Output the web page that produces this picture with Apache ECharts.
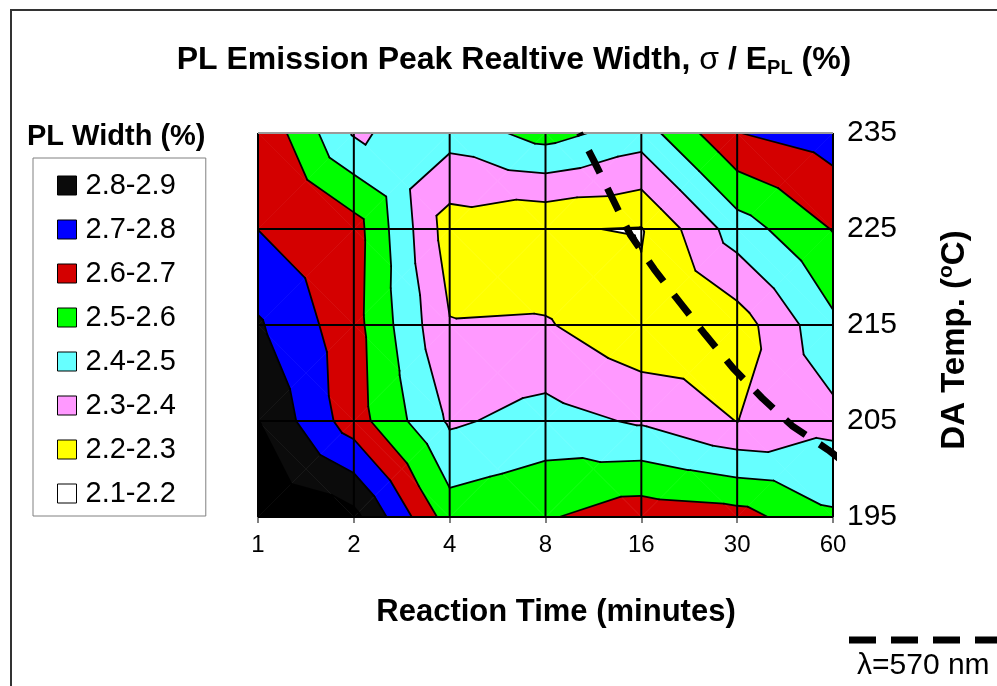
<!DOCTYPE html>
<html>
<head>
<meta charset="utf-8">
<script src="https://cdn.jsdelivr.net/npm/echarts@6/dist/echarts.min.js"></script>
<style>
html,body{margin:0;padding:0;background:#fff;}
#chart{width:997px;height:686px;}
</style>
</head>
<body>
<div id="chart"></div>
<script>
// ---- data ----
const timeLabels = ['1', '2', '4', '8', '16', '30', '60'];
const tempLabels = ['195', '205', '215', '225', '235'];
// PL width (%) at each grid node, one array per DA temperature row
const width195 = [2.98, 2.93, 2.55, 2.59, 2.66, 2.64, 2.515];
const width205 = [2.902, 2.646, 2.385, 2.437, 2.388, 2.298, 2.37];
const width215 = [2.812, 2.637, 2.305, 2.31, 2.216, 2.25, 2.48];
const width225 = [2.699, 2.644, 2.25, 2.207, 2.195, 2.45, 2.605];
const width235 = [2.69, 2.39, 2.44, 2.54, 2.45, 2.698, 2.75];
// contour bands
const bandLabels = ['2.9-3.0', '2.8-2.9', '2.7-2.8', '2.6-2.7', '2.5-2.6', '2.4-2.5', '2.3-2.4', '2.2-2.3', '2.1-2.2'];
const bandLow  = [2.9, 2.8, 2.7, 2.6, 2.5, 2.4, 2.3, 2.2, 2.1];
const bandHigh = [3.0, 2.9, 2.8, 2.7, 2.6, 2.5, 2.4, 2.3, 2.2];
const bandColors = ['#000000', '#0b0b0b', '#0000ff', '#d40000', '#00ff00', '#66ffff', '#ff99ff', '#ffff00', '#ffffff'];
const legendBands = ['2.8-2.9', '2.7-2.8', '2.6-2.7', '2.5-2.6', '2.4-2.5', '2.3-2.4', '2.2-2.3', '2.1-2.2'];
// lambda = 570 nm iso-line (position along time axis ticks, DA temperature)
const lambdaPos  = [3.354, 3.50, 3.885, 4.135, 4.406, 4.667, 4.958, 5.26, 5.573, 5.948, 6.13];
const lambdaTemp = [235.0, 232.2, 224.4, 220.8, 217.3, 214.0, 210.5, 207.4, 204.5, 202.0, 200.6];

// ---- contour computation (triangulated grid, linear in each triangle) ----
const rows = [width195, width205, width215, width225, width235];
const tStep = Number(tempLabels[1]) - Number(tempLabels[0]);
const t0 = Number(tempLabels[0]);
function node(i, j) { return { x: i, y: j, v: rows[j][i] }; }
const triangles = [];
for (let j = 0; j < rows.length - 1; j++) {
  for (let i = 0; i < timeLabels.length - 1; i++) {
    const A = node(i, j), B = node(i + 1, j), C = node(i + 1, j + 1), D = node(i, j + 1);
    const M = { x: i + 0.5, y: j + 0.5, v: (A.v + B.v + C.v + D.v) / 4 };
    triangles.push([A, B, M], [B, C, M], [C, D, M], [D, A, M]);
  }
}
function clip(poly, level, above) {
  const out = [];
  for (let k = 0; k < poly.length; k++) {
    const P = poly[k], Q = poly[(k + 1) % poly.length];
    const inP = above ? P.v >= level : P.v <= level;
    const inQ = above ? Q.v >= level : Q.v <= level;
    if (inP) out.push(P);
    if (inP !== inQ) {
      const t = (level - P.v) / (Q.v - P.v);
      out.push({ x: P.x + t * (Q.x - P.x), y: P.y + t * (Q.y - P.y), v: level });
    }
  }
  return out;
}
const bandPolys = bandLow.map((lo, b) => {
  const list = [];
  triangles.forEach(tri => {
    let p = clip(tri, lo, true);
    if (p.length >= 3) p = clip(p, bandHigh[b], false);
    if (p.length >= 3) list.push(p);
  });
  return list;
});
const levels = [2.2, 2.3, 2.4, 2.5, 2.6, 2.7, 2.8, 2.9];
const segments = [];
triangles.forEach(tri => {
  levels.forEach(L => {
    const pts = [];
    for (let k = 0; k < 3; k++) {
      const P = tri[k], Q = tri[(k + 1) % 3];
      if ((P.v - L) * (Q.v - L) < 0) {
        const t = (L - P.v) / (Q.v - P.v);
        pts.push([P.x + t * (Q.x - P.x), P.y + t * (Q.y - P.y)]);
      }
    }
    if (pts.length === 2) segments.push(pts);
  });
});
const gridSegs = [];
timeLabels.forEach((_, i) => gridSegs.push({ s: [[i, 0], [i, tempLabels.length - 1]], c: '#000' }));
tempLabels.forEach((_, j) => gridSegs.push({ s: [[0, j], [timeLabels.length - 1, j]], c: j === tempLabels.length - 1 ? '#9a9a9a' : '#000' }));

const FONT = '"Liberation Sans", Arial, Helvetica, sans-serif';
const series = bandLabels.map((name, b) => ({
  type: 'custom', name: name, z: 2, silent: true, animation: false,
  itemStyle: { color: bandColors[b] },
  data: bandPolys[b].map(p => [p[0].x, p[0].y]),
  renderItem: function (params, api) {
    const poly = bandPolys[b][params.dataIndex];
    return {
      type: 'polygon',
      shape: { points: poly.map(p => api.coord([p.x, p.y])) },
      style: { fill: bandColors[b], stroke: bandColors[b], lineWidth: 0.6 }
    };
  }
}));
series.push({
  type: 'custom', name: 'contours', z: 3, silent: true, animation: false,
  data: segments.map(s => s[0]),
  renderItem: function (params, api) {
    const s = segments[params.dataIndex];
    const a = api.coord(s[0]), b = api.coord(s[1]);
    return { type: 'line', shape: { x1: a[0], y1: a[1], x2: b[0], y2: b[1] }, style: { stroke: '#000', lineWidth: 1.8, lineCap: 'round' } };
  }
});
series.push({
  type: 'custom', name: 'gridlines', z: 4, silent: true, animation: false,
  data: gridSegs.map(g => g.s[0]),
  renderItem: function (params, api) {
    const g = gridSegs[params.dataIndex];
    const a = api.coord(g.s[0]), b = api.coord(g.s[1]);
    return { type: 'line', shape: { x1: a[0], y1: a[1], x2: b[0], y2: b[1] }, style: { stroke: g.c, lineWidth: 2 } };
  }
});
series.push({
  type: 'line', name: 'λ=570 nm', z: 6, silent: true, animation: false,
  symbol: 'none', clip: false, smooth: false,
  data: lambdaPos.map((x, k) => [x, (lambdaTemp[k] - t0) / tStep]),
  lineStyle: { color: '#000', width: 7, type: [25, 17], dashOffset: 22, cap: 'butt' }
});

const chart = echarts.init(document.getElementById('chart'), null, { renderer: 'canvas' });
chart.setOption({
  backgroundColor: '#fff',
  animation: false,
  textStyle: { fontFamily: FONT },
  grid: { left: 258, right: 164, top: 133, bottom: 169, containLabel: false },
  xAxis: {
    type: 'value', min: 0, max: timeLabels.length - 1, interval: 1,
    axisLine: { show: false },
    axisTick: { show: true, length: 6, lineStyle: { color: '#808080', width: 2 } },
    splitLine: { show: false },
    axisLabel: { formatter: v => timeLabels[v], fontSize: 24, color: '#000', margin: 16, fontFamily: FONT }
  },
  yAxis: {
    type: 'value', position: 'right', min: 0, max: tempLabels.length - 1, interval: 1,
    axisLine: { show: false },
    axisTick: { show: true, length: 8, lineStyle: { color: '#808080', width: 2 } },
    splitLine: { show: false },
    axisLabel: { formatter: v => tempLabels[v], fontSize: 30, color: '#000', margin: 14, fontFamily: FONT }
  },
  legend: {
    orient: 'vertical', left: 33, top: 158,
    data: legendBands,
    icon: 'rect', itemWidth: 19, itemHeight: 19, itemGap: 15,
    padding: [13, 30, 8, 24],
    borderColor: '#808080', borderWidth: 1,
    selectedMode: false,
    itemStyle: { borderColor: '#000', borderWidth: 1 },
    textStyle: { fontSize: 29, color: '#000', fontFamily: FONT, lineHeight: 29, padding: [0, 0, 0, 4] }
  },
  graphic: [
    { type: 'rect', silent: true, shape: { x: 11, y: 10, width: 1000, height: 700 }, style: { fill: 'none', stroke: '#333', lineWidth: 2 } },
    { type: 'text', silent: true, x: 514, y: 60, style: {
        text: '{a|PL Emission Peak Realtive Width, }{g|σ}{a| / E}{s|PL}{a| (%)}',
        align: 'center', verticalAlign: 'middle',
        rich: {
          a: { fontSize: 32, fontWeight: 'bold', fontFamily: FONT, fill: '#000', lineHeight: 36 },
          g: { fontSize: 32, fontWeight: 'normal', fontFamily: FONT, fill: '#000', lineHeight: 36 },
          s: { fontSize: 20, fontWeight: 'bold', fontFamily: FONT, fill: '#000', lineHeight: 25, verticalAlign: 'bottom' }
        } } },
    { type: 'text', silent: true, x: 27, y: 137, style: { text: 'PL Width (%)', font: 'bold 29px ' + FONT, fill: '#000', align: 'left', verticalAlign: 'middle' } },
    { type: 'text', silent: true, x: 556, y: 612, style: { text: 'Reaction Time (minutes)', font: 'bold 31px ' + FONT, fill: '#000', align: 'center', verticalAlign: 'middle' } },
    { type: 'text', silent: true, x: 955, y: 340, rotation: Math.PI / 2, style: {
        text: '{a|DA Temp. (}{o|o}{a|C)}', align: 'center', verticalAlign: 'middle',
        rich: {
          a: { fontSize: 33, fontWeight: 'bold', fontFamily: FONT, fill: '#000', lineHeight: 38 },
          o: { fontSize: 21, fontWeight: 'bold', fontFamily: FONT, fill: '#000', lineHeight: 38, verticalAlign: 'top' }
        } } },
    { type: 'line', silent: true, shape: { x1: 849, y1: 640, x2: 1000, y2: 640 }, style: { stroke: '#000', lineWidth: 7, lineDash: [27, 15] } },
    { type: 'text', silent: true, x: 857, y: 666, style: { text: 'λ=570 nm', font: '30px ' + FONT, fill: '#000', align: 'left', verticalAlign: 'middle' } }
  ],
  series: series
});
</script>
</body>
</html>
